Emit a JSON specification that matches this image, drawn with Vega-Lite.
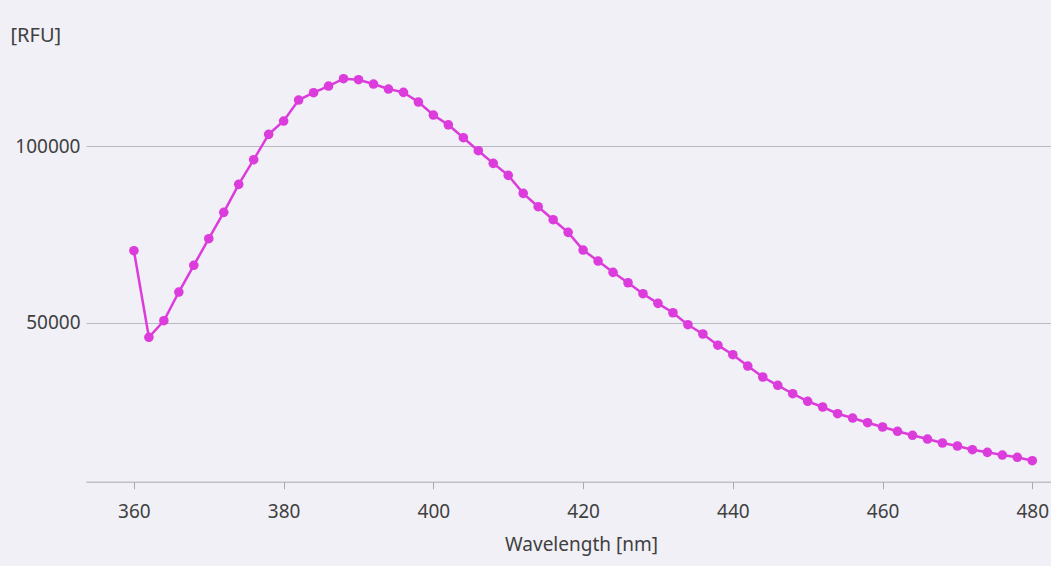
{
  "$schema": "https://vega.github.io/schema/vega-lite/v6.json",
  "autosize": {"type": "none"},
  "padding": {"left": 86, "top": 10, "right": 0, "bottom": 84.3},
  "width": 965,
  "height": 471.7,
  "background": "#f0f0f6",
  "data": {"values": [
    {"wl": 360, "rfu": 70370}, {"wl": 362, "rfu": 45860}, {"wl": 364, "rfu": 50560},
    {"wl": 366, "rfu": 58680}, {"wl": 368, "rfu": 66240}, {"wl": 370, "rfu": 73770},
    {"wl": 372, "rfu": 81230}, {"wl": 374, "rfu": 89160}, {"wl": 376, "rfu": 96130},
    {"wl": 378, "rfu": 103300}, {"wl": 380, "rfu": 107080}, {"wl": 382, "rfu": 113020},
    {"wl": 384, "rfu": 115090}, {"wl": 386, "rfu": 116980}, {"wl": 388, "rfu": 119050},
    {"wl": 390, "rfu": 118770}, {"wl": 392, "rfu": 117550}, {"wl": 394, "rfu": 116130},
    {"wl": 396, "rfu": 115190}, {"wl": 398, "rfu": 112450}, {"wl": 400, "rfu": 108770},
    {"wl": 402, "rfu": 106000}, {"wl": 404, "rfu": 102350}, {"wl": 406, "rfu": 98670},
    {"wl": 408, "rfu": 95100}, {"wl": 410, "rfu": 91700}, {"wl": 412, "rfu": 86610},
    {"wl": 414, "rfu": 82830}, {"wl": 416, "rfu": 79150}, {"wl": 418, "rfu": 75570},
    {"wl": 420, "rfu": 70570}, {"wl": 422, "rfu": 67450}, {"wl": 424, "rfu": 64250},
    {"wl": 426, "rfu": 61310}, {"wl": 428, "rfu": 58200}, {"wl": 430, "rfu": 55480},
    {"wl": 432, "rfu": 52820}, {"wl": 434, "rfu": 49430}, {"wl": 436, "rfu": 46800},
    {"wl": 438, "rfu": 43640}, {"wl": 440, "rfu": 40950}, {"wl": 442, "rfu": 37740},
    {"wl": 444, "rfu": 34630}, {"wl": 446, "rfu": 32280}, {"wl": 448, "rfu": 29900},
    {"wl": 450, "rfu": 27750}, {"wl": 452, "rfu": 26140}, {"wl": 454, "rfu": 24240},
    {"wl": 456, "rfu": 23020}, {"wl": 458, "rfu": 21700}, {"wl": 460, "rfu": 20480},
    {"wl": 462, "rfu": 19260}, {"wl": 464, "rfu": 18130}, {"wl": 466, "rfu": 17080},
    {"wl": 468, "rfu": 15950}, {"wl": 470, "rfu": 15100}, {"wl": 472, "rfu": 14050},
    {"wl": 474, "rfu": 13310}, {"wl": 476, "rfu": 12550}, {"wl": 478, "rfu": 11900},
    {"wl": 480, "rfu": 10940}
  ]},
  "encoding": {
    "x": {
      "field": "wl", "type": "quantitative",
      "scale": {"domain": [353.6, 482.5], "nice": false, "zero": false},
      "axis": {
        "title": "Wavelength [nm]",
        "values": [360, 380, 400, 420, 440, 460, 480],
        "grid": false,
        "domainColor": "#a8a8b0",
        "domainWidth": 1,
        "tickColor": "#a8a8b0",
        "tickSize": 7,
        "labelPadding": 14,
        "labelFont": "Noto Sans",
        "labelFontSize": 19,
        "labelColor": "#404040",
        "labelBaseline": "top",
        "titleFont": "Noto Sans",
        "titleFontSize": 19,
        "titleFontWeight": "normal",
        "titleColor": "#404040",
        "titleX": 495,
        "titleY": 63,
        "titleAlign": "center",
        "titleBaseline": "middle"
      }
    },
    "y": {
      "field": "rfu", "type": "quantitative",
      "scale": {"domain": [5000, 138500], "nice": false, "zero": false},
      "axis": {
        "title": "[RFU]",
        "values": [50000, 100000],
        "format": "d",
        "domain": false,
        "ticks": false,
        "grid": true,
        "gridColor": "#b8b8c0",
        "gridWidth": 1.2,
        "labelPadding": 6,
        "labelFont": "Noto Sans",
        "labelFontSize": 19,
        "labelColor": "#404040",
        "titleFont": "Noto Sans",
        "titleFontSize": 20,
        "titleFontWeight": "normal",
        "titleColor": "#404040",
        "titleAngle": 0,
        "titleX": -76,
        "titleY": 25,
        "titleAlign": "left",
        "titleBaseline": "middle"
      }
    }
  },
  "layer": [
    {"mark": {"type": "line", "color": "#dc3cdc", "strokeWidth": 2.5}},
    {"mark": {"type": "point", "filled": true, "opacity": 1, "color": "#dc3cdc", "size": 92}}
  ],
  "config": {"view": {"stroke": null}}
}
